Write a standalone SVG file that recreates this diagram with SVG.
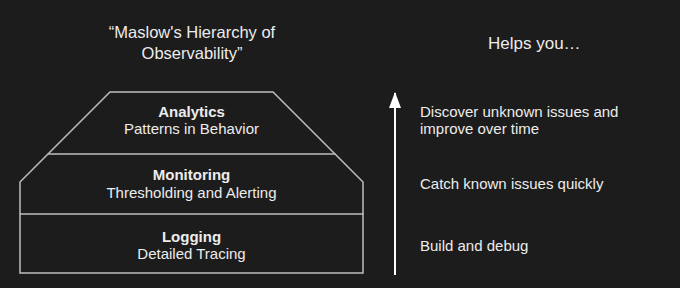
<svg xmlns="http://www.w3.org/2000/svg" width="680" height="288" viewBox="0 0 680 288">
<style>
text{font-family:"Liberation Sans",Arial,sans-serif;fill:#ececec}
.t{font-size:16.5px}
.h{font-size:15px;font-weight:bold;text-anchor:middle}
.s{font-size:15px;text-anchor:middle}
.r{font-size:15px}
.ln{stroke:#bdbdbd;stroke-width:1.5;fill:none}
</style>
<defs>
<marker id="ah" viewBox="0 0 16 12" refX="15" refY="6" markerWidth="16" markerHeight="12" markerUnits="userSpaceOnUse" orient="auto">
<path d="M0 0 L16 6 L0 12 Z" fill="#ffffff"/>
</marker>
</defs>
<rect width="680" height="288" fill="#1c1c1c"/>
<g id="title">
<text class="t" x="192" y="38" text-anchor="middle">“Maslow's Hierarchy of</text>
<text class="t" x="192" y="59" text-anchor="middle">Observability”</text>
</g>
<g id="helps">
<text class="t" x="488" y="49" style="font-size:17px">Helps you…</text>
</g>
<g id="analytics">
<path class="ln" d="M48 154 L110 92 L273 92 L335 154"/>
<text class="h" x="191.5" y="117">Analytics</text>
<text class="s" x="191.5" y="134">Patterns in Behavior</text>
</g>
<g id="monitoring">
<path class="ln" d="M20 214 L20 182 L48 154 L335 154 L363 182 L363 214"/>
<text class="h" x="191.5" y="180">Monitoring</text>
<text class="s" x="191.5" y="197.5">Thresholding and Alerting</text>
</g>
<g id="logging">
<path class="ln" d="M20 214 L363 214 L363 273 L20 273 Z"/>
<text class="h" x="191.5" y="241.5">Logging</text>
<text class="s" x="191.5" y="259">Detailed Tracing</text>
</g>
<g id="connectors">
<line x1="395" y1="275" x2="395" y2="93" stroke="#ffffff" stroke-width="2" marker-end="url(#ah)"/>
</g>
<g id="descriptions">
<text class="r" x="420" y="117">Discover unknown issues and</text>
<text class="r" x="420" y="134">improve over time</text>
<text class="r" x="420" y="189">Catch known issues quickly</text>
<text class="r" x="420" y="250.5">Build and debug</text>
</g>
</svg>
